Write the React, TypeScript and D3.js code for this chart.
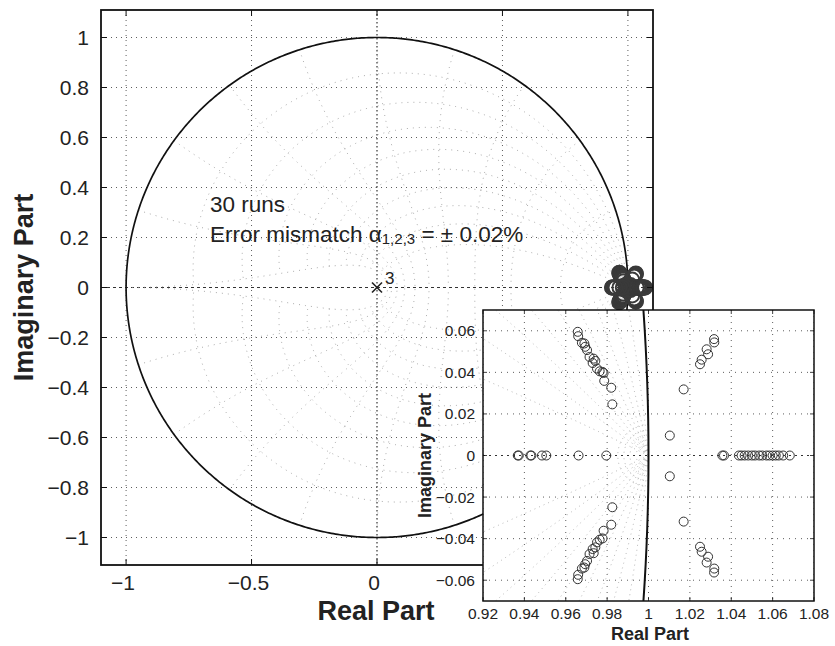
import * as d3 from "d3";

// zeros, [real, imag]
const upperLeft: [number, number][] = [
  [0.9658, 0.0595], [0.966, 0.0574], [0.9678, 0.0542], [0.969, 0.0539], [0.9694, 0.0523],
  [0.9703, 0.0507], [0.9715, 0.0474], [0.9735, 0.0466], [0.973, 0.0445], [0.9743, 0.0455],
  [0.9751, 0.0418], [0.9764, 0.0405], [0.9778, 0.0402], [0.9783, 0.0397], [0.9786, 0.0359],
  [0.982, 0.0326], [0.9825, 0.0246],
];
const lowerLeft: [number, number][] = [
  [0.9825, -0.0249], [0.982, -0.0333], [0.9783, -0.0362], [0.9778, -0.0399], [0.9764, -0.0405],
  [0.9751, -0.0418], [0.9743, -0.0442], [0.973, -0.045], [0.9735, -0.047], [0.9715, -0.0474],
  [0.9703, -0.0507], [0.9694, -0.0523], [0.969, -0.0539], [0.9678, -0.0544], [0.966, -0.0574],
  [0.9658, -0.0595],
];
const upperRight: [number, number][] = [
  [1.0317, 0.056], [1.0318, 0.0544], [1.0281, 0.0511], [1.0288, 0.0487], [1.0257, 0.0461],
  [1.0249, 0.0439], [1.017, 0.0318], [1.0103, 0.0096],
];
const lowerRight: [number, number][] = [
  [1.0249, -0.0439], [1.0257, -0.0463], [1.0288, -0.0487], [1.0281, -0.0515], [1.0318, -0.0544],
  [1.0317, -0.0563], [1.017, -0.0318], [1.0103, -0.01],
];
const realAxisZeros = [
  0.9368, 0.9373, 0.9429, 0.9434, 0.9485, 0.9506, 0.9662, 0.9796, 1.0357, 1.0365, 1.0437,
  1.045, 1.0465, 1.0482, 1.05, 1.0515, 1.0535, 1.055, 1.057, 1.0584, 1.06, 1.0615, 1.063,
  1.0651, 1.0683,
];
const poles: [number, number][] = [[0, 0]];

const mainXTicks = [-1, -0.5, 0, 0.5, 1];
const mainYTicks = [-1, -0.8, -0.6, -0.4, -0.2, 0, 0.2, 0.4, 0.6, 0.8, 1];
const insetXTicks = [0.92, 0.94, 0.96, 0.98, 1, 1.02, 1.04, 1.06, 1.08];
const insetYTicks = [-0.06, -0.04, -0.02, 0, 0.02, 0.04, 0.06];

// zgrid parameters
const zetas = [0.1, 0.2, 0.3, 0.4, 0.5, 0.6, 0.7, 0.8, 0.9];
const wns = [0.1, 0.2, 0.3, 0.4, 0.5, 0.6, 0.7, 0.8, 0.9, 1.0];
const insetWns = [0.003, 0.006, 0.009, 0.012, 0.015];

const allZeros: [number, number][] = [
  ...upperLeft, ...lowerLeft, ...upperRight, ...lowerRight,
  ...realAxisZeros.map((r) => [r, 0] as [number, number]),
];

const font = "'Liberation Sans', Arial, Helvetica, sans-serif";
const fmt = (v: number) => String(v).replace("-", "\u2212");

const zPoint = (wn: number, zeta: number, sign: number): [number, number] => {
  const m = Math.exp(-zeta * wn);
  const a = wn * Math.sqrt(1 - zeta * zeta);
  return [m * Math.cos(a), sign * m * Math.sin(a)];
};

// constant damping curves and constant natural-frequency curves
const zetaCurves = (maxWn: number) =>
  zetas.flatMap((z) =>
    [1, -1].map((s) => d3.range(0, 401).map((i) => zPoint((i / 400) * maxWn, z, s)))
  );
const wnCurves = (list: number[]) =>
  list.flatMap((w) =>
    [1, -1].map((s) => d3.range(0, 101).map((i) => zPoint(w, i / 100, s)))
  );
const unitCircle: [number, number][] = d3
  .range(0, 721)
  .map((i) => [Math.cos((i / 720) * 2 * Math.PI), Math.sin((i / 720) * 2 * Math.PI)]);

export default function App() {
  const x = d3.scaleLinear([-1.1, 1.1], [101, 653]);
  const y = d3.scaleLinear([-1.11, 1.11], [565, 10]);
  const ix = d3.scaleLinear([0.92, 1.08], [483, 814]);
  const iy = d3.scaleLinear([-0.07, 0.07], [601, 310]);

  const line = d3.line<[number, number]>().x((d) => x(d[0])).y((d) => y(d[1]));
  const iline = d3.line<[number, number]>().x((d) => ix(d[0])).y((d) => iy(d[1]));

  const mainZ = [...zetaCurves(Math.PI), ...wnCurves(wns.map((w) => w * Math.PI))];
  const insetZ = [...zetaCurves(0.2), ...wnCurves(insetWns)];

  const [x0, x1] = x.range();
  const [y0, y1] = y.range();
  const [ix0, ix1] = ix.range();
  const [iy0, iy1] = iy.range();

  return (
    <svg width={835} height={646} style={{ position: "absolute", left: 0, top: 0 }} fontFamily={font}>
      <rect width={835} height={646} fill="#fff" />
      <defs>
        <clipPath id="mainClip">
          <rect x={x0} y={y1} width={x1 - x0} height={y0 - y1} />
        </clipPath>
        <clipPath id="insetClip">
          <rect x={ix0} y={iy1} width={ix1 - ix0} height={iy0 - iy1} />
        </clipPath>
      </defs>

      {/* main plot */}
      <g clipPath="url(#mainClip)">
        {mainXTicks.map((t) => (
          <line key={"gx" + t} x1={x(t)} x2={x(t)} y1={y1} y2={y0} stroke="#333"
            strokeWidth={t === 0 ? 1.2 : 0.8} strokeDasharray={t === 0 ? "1.5,2.5" : "1,4"} />
        ))}
        {mainYTicks.map((t) => (
          <line key={"gy" + t} x1={x0} x2={x1} y1={y(t)} y2={y(t)} stroke="#333"
            strokeWidth={t === 0 ? 1.2 : 0.8} strokeDasharray={t === 0 ? "3,3" : "1,4"} />
        ))}
        {mainZ.map((c, i) => (
          <path key={"zg" + i} d={line(c) ?? ""} fill="none" stroke="#888"
            strokeWidth={0.7} strokeDasharray="1,5" />
        ))}
        <path d={line(unitCircle) ?? ""} fill="none" stroke="#111" strokeWidth={1.7} />
        {allZeros.map((d, i) => (
          <circle key={"mz" + i} cx={x(d[0])} cy={y(d[1])} r={7} fill="none"
            stroke="#3a3a3a" strokeWidth={2} />
        ))}
        {poles.map((d, i) => (
          <g key={"p" + i} stroke="#222" strokeWidth={1.6}>
            <line x1={x(d[0]) - 5} x2={x(d[0]) + 5} y1={y(d[1]) - 5} y2={y(d[1]) + 5} />
            <line x1={x(d[0]) - 5} x2={x(d[0]) + 5} y1={y(d[1]) + 5} y2={y(d[1]) - 5} />
          </g>
        ))}
      </g>
      {poles.map((d, i) => (
        <text key={"pl" + i} x={x(d[0]) + 8} y={y(d[1]) - 4} fontSize={17} fill="#222">3</text>
      ))}
      <rect x={x0} y={y1} width={x1 - x0} height={y0 - y1} fill="none" stroke="#111" strokeWidth={1.8} />
      {mainXTicks.map((t) => (
        <g key={"tx" + t} stroke="#111" strokeWidth={1}>
          <line x1={x(t)} x2={x(t)} y1={y0} y2={y0 - 6} />
          <line x1={x(t)} x2={x(t)} y1={y1} y2={y1 + 6} />
        </g>
      ))}
      {mainYTicks.map((t) => (
        <g key={"ty" + t} stroke="#111" strokeWidth={1}>
          <line x1={x0} x2={x0 + 6} y1={y(t)} y2={y(t)} />
          <line x1={x1} x2={x1 - 6} y1={y(t)} y2={y(t)} />
        </g>
      ))}
      {mainXTicks.map((t) => (
        <text key={"lx" + t} x={x(t) - 3} y={590} fontSize={21} textAnchor="middle" fill="#222">{fmt(t)}</text>
      ))}
      {mainYTicks.map((t) => (
        <text key={"ly" + t} x={89} y={y(t) + 7.5} fontSize={21} textAnchor="end" fill="#222">{fmt(t)}</text>
      ))}
      <text x={376} y={620} fontSize={27} fontWeight="bold" textAnchor="middle" fill="#222">Real Part</text>
      <text transform={`translate(33,${y(0)}) rotate(-90)`} fontSize={27} fontWeight="bold"
        textAnchor="middle" fill="#222">Imaginary Part</text>

      <text x={210} y={212} fontSize={22.5} fill="#222">30 runs</text>
      <text x={210} y={242} fontSize={22.5} fill="#222">
        Error mismatch α<tspan fontSize={15} dy={2}>1,2,3</tspan>
        <tspan dy={-2}> = ± 0.02%</tspan>
      </text>

      {/* inset */}
      <rect x={ix0} y={iy1} width={ix1 - ix0} height={iy0 - iy1} fill="#fff" />
      <g clipPath="url(#insetClip)">
        {insetXTicks.map((t) => (
          <line key={"igx" + t} x1={ix(t)} x2={ix(t)} y1={iy1} y2={iy0} stroke="#333"
            strokeWidth={0.8} strokeDasharray="1,5" />
        ))}
        {insetYTicks.map((t) => (
          <line key={"igy" + t} x1={ix0} x2={ix1} y1={iy(t)} y2={iy(t)} stroke="#333"
            strokeWidth={t === 0 ? 1.2 : 0.8} strokeDasharray={t === 0 ? "2,4" : "1,5"} />
        ))}
        {insetZ.map((c, i) => (
          <path key={"izg" + i} d={iline(c) ?? ""} fill="none" stroke="#999"
            strokeWidth={0.7} strokeDasharray="1,4" />
        ))}
        <path d={iline(unitCircle) ?? ""} fill="none" stroke="#111" strokeWidth={2} />
        {allZeros.map((d, i) => (
          <circle key={"iz" + i} cx={ix(d[0])} cy={iy(d[1])} r={4.5} fill="none"
            stroke="#333" strokeWidth={1} />
        ))}
      </g>
      <rect x={ix0} y={iy1} width={ix1 - ix0} height={iy0 - iy1} fill="none" stroke="#111" strokeWidth={1.5} />
      {insetXTicks.map((t) => (
        <g key={"itx" + t} stroke="#111" strokeWidth={0.8}>
          <line x1={ix(t)} x2={ix(t)} y1={iy0} y2={iy0 - 4} />
          <line x1={ix(t)} x2={ix(t)} y1={iy1} y2={iy1 + 4} />
        </g>
      ))}
      {insetYTicks.map((t) => (
        <g key={"ity" + t} stroke="#111" strokeWidth={0.8}>
          <line x1={ix0} x2={ix0 + 4} y1={iy(t)} y2={iy(t)} />
          <line x1={ix1} x2={ix1 - 4} y1={iy(t)} y2={iy(t)} />
        </g>
      ))}
      {insetXTicks.map((t) => (
        <text key={"ilx" + t} x={ix(t)} y={619} fontSize={15.5} textAnchor="middle" fill="#222">{fmt(t)}</text>
      ))}
      {insetYTicks.map((t) => (
        <text key={"ily" + t} x={475} y={iy(t) + 5.5} fontSize={15.5} textAnchor="end" fill="#222">{fmt(t)}</text>
      ))}
      <text x={650} y={640} fontSize={18} fontWeight="bold" textAnchor="middle" fill="#222">Real Part</text>
      <text transform={`translate(431,${iy(0)}) rotate(-90)`} fontSize={18} fontWeight="bold"
        textAnchor="middle" fill="#222">Imaginary Part</text>
    </svg>
  );
}
